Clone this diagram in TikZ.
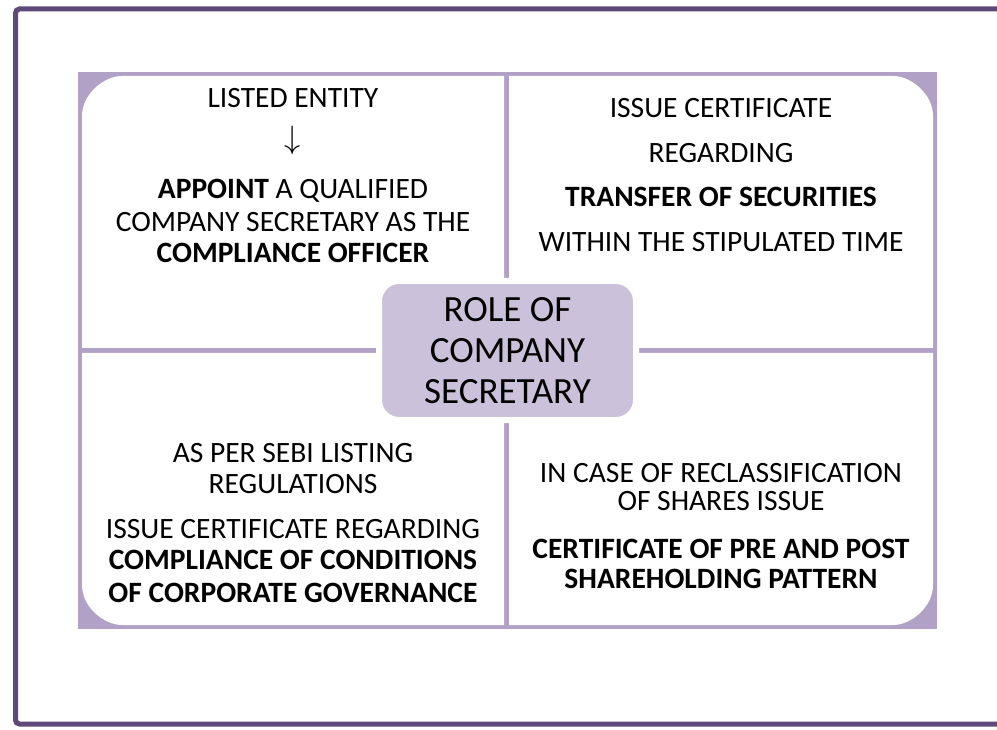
\documentclass[tikz,border=0pt]{standalone}
\usepackage{fontspec}
\setmainfont{Carlito}
\definecolor{frameviolet}{RGB}{95,73,122}
\definecolor{lavender}{RGB}{178,161,199}
\definecolor{hubfill}{RGB}{204,193,218}

\begin{document}
\begin{tikzpicture}[
		x=1pt, y=-1pt,
		frame/.style={draw=frameviolet, line width=5pt, rounded corners=4pt},
		quad/.style={fill=white},
		txt/.style={anchor=base, inner sep=0pt, font=\fontsize{29.5}{33}\selectfont},
		hub/.style={draw=white, line width=6pt, fill=hubfill, rounded corners=20pt,
			align=center, inner sep=0pt, font=\fontsize{37}{41}\selectfont,
			minimum width=257pt, minimum height=139pt}
		]
		
		\useasboundingbox (0,0) rectangle (997,730);
		\clip (0,0) rectangle (997,730);
		
		% --------------------------------------------------
		% Outer frame (right side runs off the page)
		% --------------------------------------------------
		\draw[frame] (1020,9) -- (15.5,9) -- (15.5,724) -- (1020,724);
		
		% --------------------------------------------------
		% Quadrant panel
		% --------------------------------------------------
		\fill[lavender] (78,72) rectangle (937,629);
		
		% top left
		\fill[quad] (504,348) -- (82,348) -- (82,116)
			.. controls (82,94) and (104,76) .. (122,76) -- (504,76) -- cycle;
		% top right
		\fill[quad] (509,348) -- (933,348) -- (933,116)
			.. controls (933,94) and (911,76) .. (893,76) -- (509,76) -- cycle;
		% bottom left
		\fill[quad] (504,353) -- (82,353) -- (82,585)
			.. controls (82,607) and (104,625) .. (122,625) -- (504,625) -- cycle;
		% bottom right
		\fill[quad] (509,353) -- (933,353) -- (933,585)
			.. controls (933,607) and (911,625) .. (893,625) -- (509,625) -- cycle;
		
		% --------------------------------------------------
		% Top left text
		% --------------------------------------------------
		\node[txt] (tlA) at (293,108) {LISTED ENTITY};
		\node[txt] (tlArrow) at (293,149) {\scalebox{1.3}{$\downarrow$}};
		\node[txt] (tlB) at (293,199) {\textbf{APPOINT} A QUALIFIED};
		\node[txt] (tlC) at (293,232) {COMPANY SECRETARY AS THE};
		\node[txt] (tlD) at (293,263) {\textbf{COMPLIANCE OFFICER}};
		
		% --------------------------------------------------
		% Top right text
		% --------------------------------------------------
		\node[txt] (trA) at (721,118) {ISSUE CERTIFICATE};
		\node[txt] (trB) at (721,163) {REGARDING};
		\node[txt] (trC) at (721,207) {\textbf{TRANSFER OF SECURITIES}};
		\node[txt] (trD) at (721,252) {WITHIN THE STIPULATED TIME};
		
		% --------------------------------------------------
		% Bottom left text
		% --------------------------------------------------
		\node[txt] (blA) at (293,462) {AS PER SEBI LISTING};
		\node[txt] (blB) at (293,493) {REGULATIONS};
		\node[txt] (blC) at (293,538) {ISSUE CERTIFICATE REGARDING};
		\node[txt] (blD) at (293,569) {\textbf{COMPLIANCE OF CONDITIONS}};
		\node[txt] (blE) at (293,602) {\textbf{OF CORPORATE GOVERNANCE}};
		
		% --------------------------------------------------
		% Bottom right text
		% --------------------------------------------------
		\node[txt] (brA) at (721,482) {IN CASE OF RECLASSIFICATION};
		\node[txt] (brB) at (721,510) {OF SHARES ISSUE};
		\node[txt] (brC) at (721,558) {\textbf{CERTIFICATE OF PRE AND POST}};
		\node[txt] (brD) at (721,588) {\textbf{SHAREHOLDING PATTERN}};
		
		% --------------------------------------------------
		% Centre
		% --------------------------------------------------
		\node[hub] (role) at (507.5,350.5) {ROLE OF\\COMPANY\\SECRETARY};
		
	\end{tikzpicture}
\end{document}
